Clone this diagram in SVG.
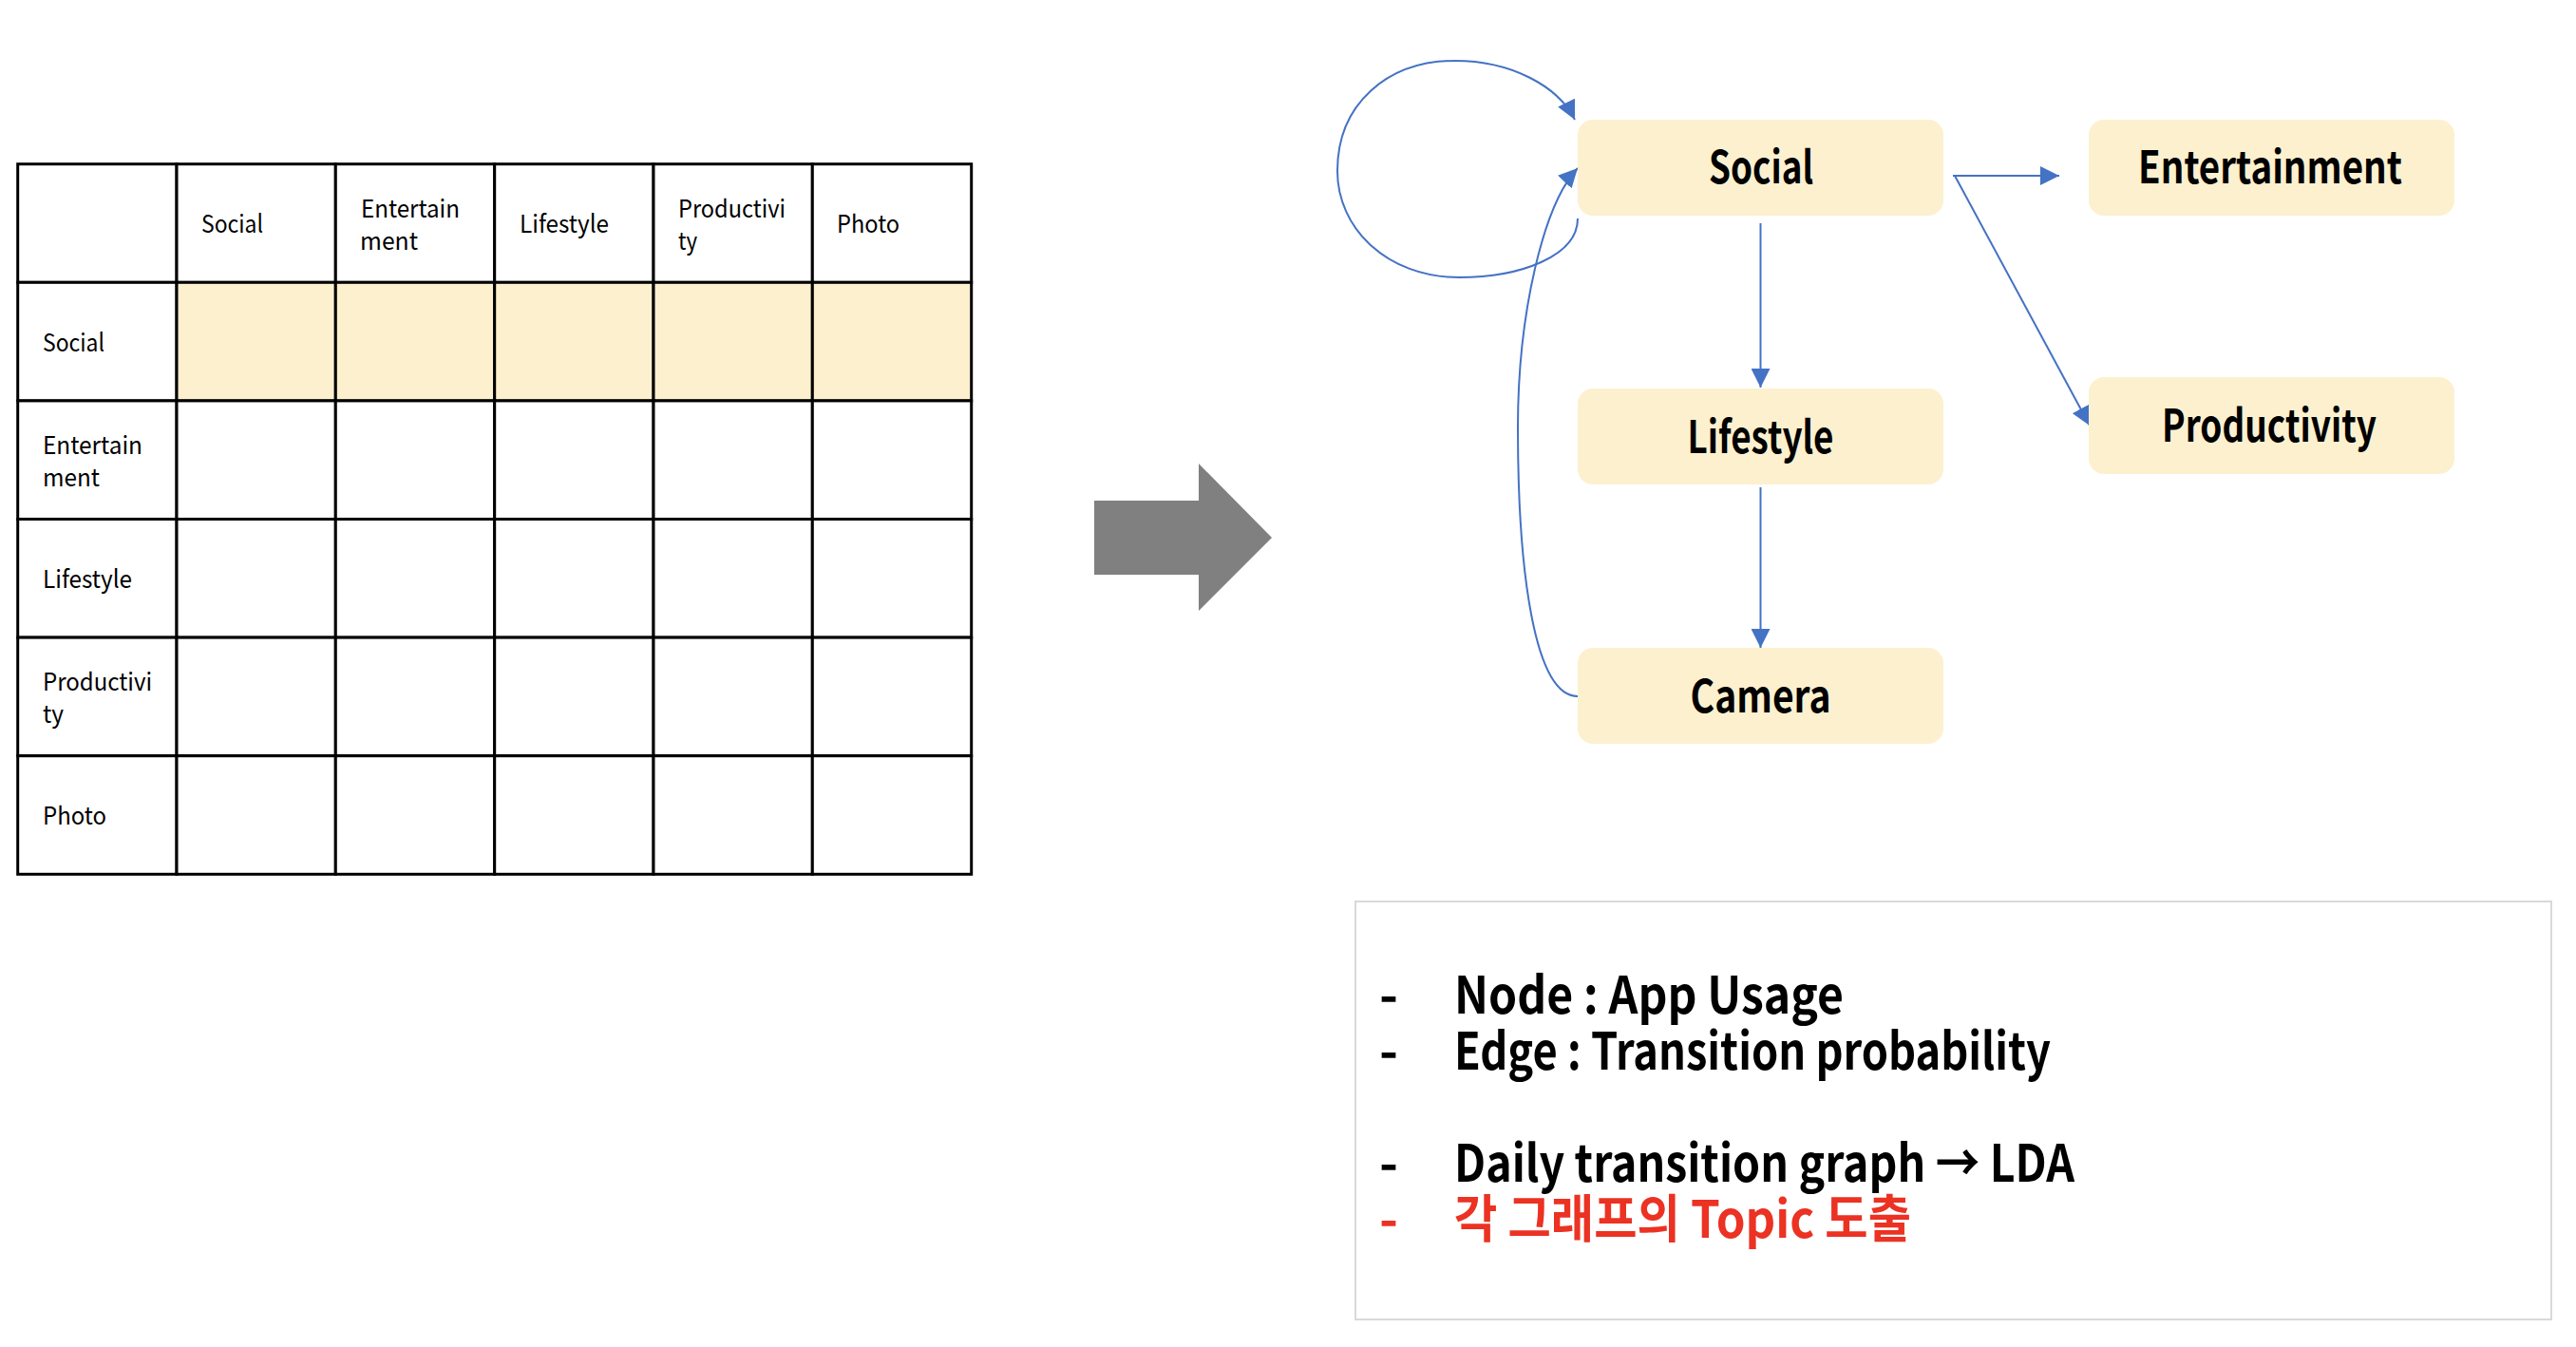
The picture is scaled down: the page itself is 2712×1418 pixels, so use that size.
<svg xmlns="http://www.w3.org/2000/svg" width="2712" height="1418" viewBox="0 0 2712 1418">
<style>
.cell{fill:#ffffff;stroke:#000000;stroke-width:3}
.hl{fill:#FCF0CF;stroke:#000000;stroke-width:3}
.tt{font-family:"Noto Sans CJK KR","Noto Sans",sans-serif;font-size:26px;fill:#000000}
.box{fill:#FCF0CF}
.nl{font-family:"Noto Sans CJK KR","Noto Sans",sans-serif;font-size:47px;font-weight:700;fill:#000000;text-anchor:middle}
.edge{fill:none;stroke:#4472C4;stroke-width:2}
.bt{font-family:"Noto Sans CJK KR","Noto Sans",sans-serif;font-size:54px;font-weight:600;fill:#000000}
.red{fill:#EB3223}
</style>
<defs>
<marker id="ah" viewBox="0 0 20 20" refX="20" refY="10" markerWidth="20" markerHeight="20" markerUnits="userSpaceOnUse" orient="auto">
<path d="M0,0 L20,10 L0,20 z" fill="#4472C4"/>
</marker>
</defs>
<rect width="2712" height="1418" fill="#ffffff"/>

<g id="table">
<g id="row0">
<rect class="cell" x="18.7" y="172.7" width="167.3" height="124.6"/>
<rect class="cell" x="186" y="172.7" width="167.3" height="124.6"/>
<rect class="cell" x="353.3" y="172.7" width="167.4" height="124.6"/>
<rect class="cell" x="520.7" y="172.7" width="167.3" height="124.6"/>
<rect class="cell" x="688" y="172.7" width="167.3" height="124.6"/>
<rect class="cell" x="855.3" y="172.7" width="167.4" height="124.6"/>
<text class="tt" x="212" y="245" textLength="65" lengthAdjust="spacingAndGlyphs">Social</text>
<text class="tt" x="380" y="228.5" textLength="104" lengthAdjust="spacingAndGlyphs">Entertain</text>
<text class="tt" x="379" y="262.5" textLength="61" lengthAdjust="spacingAndGlyphs">ment</text>
<text class="tt" x="547" y="245" textLength="94" lengthAdjust="spacingAndGlyphs">Lifestyle</text>
<text class="tt" x="714" y="228.5" textLength="113" lengthAdjust="spacingAndGlyphs">Productivi</text>
<text class="tt" x="714" y="262.5" textLength="20" lengthAdjust="spacingAndGlyphs">ty</text>
<text class="tt" x="881" y="245" textLength="66" lengthAdjust="spacingAndGlyphs">Photo</text>
</g>
<g id="row1">
<rect class="cell" x="18.7" y="297.3" width="167.3" height="124.6"/>
<rect class="hl" x="186" y="297.3" width="167.3" height="124.6"/>
<rect class="hl" x="353.3" y="297.3" width="167.4" height="124.6"/>
<rect class="hl" x="520.7" y="297.3" width="167.3" height="124.6"/>
<rect class="hl" x="688" y="297.3" width="167.3" height="124.6"/>
<rect class="hl" x="855.3" y="297.3" width="167.4" height="124.6"/>
<text class="tt" x="45" y="370" textLength="65" lengthAdjust="spacingAndGlyphs">Social</text>
</g>
<g id="row2">
<rect class="cell" x="18.7" y="421.9" width="167.3" height="124.6"/>
<rect class="cell" x="186" y="421.9" width="167.3" height="124.6"/>
<rect class="cell" x="353.3" y="421.9" width="167.4" height="124.6"/>
<rect class="cell" x="520.7" y="421.9" width="167.3" height="124.6"/>
<rect class="cell" x="688" y="421.9" width="167.3" height="124.6"/>
<rect class="cell" x="855.3" y="421.9" width="167.4" height="124.6"/>
<text class="tt" x="45" y="478" textLength="105" lengthAdjust="spacingAndGlyphs">Entertain</text>
<text class="tt" x="45" y="512" textLength="60" lengthAdjust="spacingAndGlyphs">ment</text>
</g>
<g id="row3">
<rect class="cell" x="18.7" y="546.5" width="167.3" height="124.6"/>
<rect class="cell" x="186" y="546.5" width="167.3" height="124.6"/>
<rect class="cell" x="353.3" y="546.5" width="167.4" height="124.6"/>
<rect class="cell" x="520.7" y="546.5" width="167.3" height="124.6"/>
<rect class="cell" x="688" y="546.5" width="167.3" height="124.6"/>
<rect class="cell" x="855.3" y="546.5" width="167.4" height="124.6"/>
<text class="tt" x="45" y="619" textLength="94" lengthAdjust="spacingAndGlyphs">Lifestyle</text>
</g>
<g id="row4">
<rect class="cell" x="18.7" y="671.1" width="167.3" height="124.6"/>
<rect class="cell" x="186" y="671.1" width="167.3" height="124.6"/>
<rect class="cell" x="353.3" y="671.1" width="167.4" height="124.6"/>
<rect class="cell" x="520.7" y="671.1" width="167.3" height="124.6"/>
<rect class="cell" x="688" y="671.1" width="167.3" height="124.6"/>
<rect class="cell" x="855.3" y="671.1" width="167.4" height="124.6"/>
<text class="tt" x="45" y="727" textLength="115" lengthAdjust="spacingAndGlyphs">Productivi</text>
<text class="tt" x="45" y="761" textLength="22" lengthAdjust="spacingAndGlyphs">ty</text>
</g>
<g id="row5">
<rect class="cell" x="18.7" y="795.7" width="167.3" height="124.6"/>
<rect class="cell" x="186" y="795.7" width="167.3" height="124.6"/>
<rect class="cell" x="353.3" y="795.7" width="167.4" height="124.6"/>
<rect class="cell" x="520.7" y="795.7" width="167.3" height="124.6"/>
<rect class="cell" x="688" y="795.7" width="167.3" height="124.6"/>
<rect class="cell" x="855.3" y="795.7" width="167.4" height="124.6"/>
<text class="tt" x="45" y="868" textLength="67" lengthAdjust="spacingAndGlyphs">Photo</text>
</g>
</g>

<g id="big-arrow">
<polygon points="1152,527 1262,527 1262,488 1339,566 1262,643 1262,605 1152,605" fill="#808080"/>
</g>

<g id="connectors">
<path class="edge" d="M1661 230 C1661 270 1600 292 1536 292 C1460 292 1408 240 1408 180 C1408 110 1460 64 1532 64 C1590 64 1640 90 1658 126" marker-end="url(#ah)"/>
<path class="edge" d="M1661 733 C1615 733 1598 600 1598 450 C1598 330 1625 215 1661 177" marker-end="url(#ah)"/>
<path class="edge" d="M2056 185 L2168 185" marker-end="url(#ah)"/>
<path class="edge" d="M2058 185 L2200 448" marker-end="url(#ah)"/>
<path class="edge" d="M1853.5 235 L1853.5 408" marker-end="url(#ah)"/>
<path class="edge" d="M1853.5 513 L1853.5 682" marker-end="url(#ah)"/>
</g>

<g id="node-social">
<rect class="box" x="1661" y="126" width="385" height="101" rx="16"/>
<text class="nl" x="1854" y="193" textLength="110" lengthAdjust="spacingAndGlyphs">Social</text>
</g>
<g id="node-entertainment">
<rect class="box" x="2199" y="126" width="385" height="101" rx="16"/>
<text class="nl" x="2390" y="193" textLength="278" lengthAdjust="spacingAndGlyphs">Entertainment</text>
</g>
<g id="node-lifestyle">
<rect class="box" x="1661" y="409" width="385" height="101" rx="16"/>
<text class="nl" x="1853.5" y="476.5" textLength="154" lengthAdjust="spacingAndGlyphs">Lifestyle</text>
</g>
<g id="node-productivity">
<rect class="box" x="2199" y="397" width="385" height="102" rx="16"/>
<text class="nl" x="2389" y="465" textLength="226" lengthAdjust="spacingAndGlyphs">Productivity</text>
</g>
<g id="node-camera">
<rect class="box" x="1661" y="682" width="385" height="101" rx="16"/>
<text class="nl" x="1853.5" y="750" textLength="148" lengthAdjust="spacingAndGlyphs">Camera</text>
</g>

<g id="notes">
<rect x="1427" y="949" width="1259" height="440" fill="#ffffff" stroke="#D9D9D9" stroke-width="2"/>
<text class="bt" x="1452" y="1067">-</text>
<text class="bt" x="1531" y="1067" textLength="410" lengthAdjust="spacingAndGlyphs">Node : App Usage</text>
<text class="bt" x="1452" y="1126">-</text>
<text class="bt" x="1531" y="1126" textLength="628" lengthAdjust="spacingAndGlyphs">Edge : Transition probability</text>
<text class="bt" x="1452" y="1244">-</text>
<text class="bt" x="1531" y="1244" textLength="653" lengthAdjust="spacingAndGlyphs">Daily transition graph → LDA</text>
<text class="bt red" x="1452" y="1303">-</text>
<text class="bt red" x="1531" y="1303" textLength="481" lengthAdjust="spacingAndGlyphs">각 그래프의 Topic 도출</text>
</g>
</svg>
